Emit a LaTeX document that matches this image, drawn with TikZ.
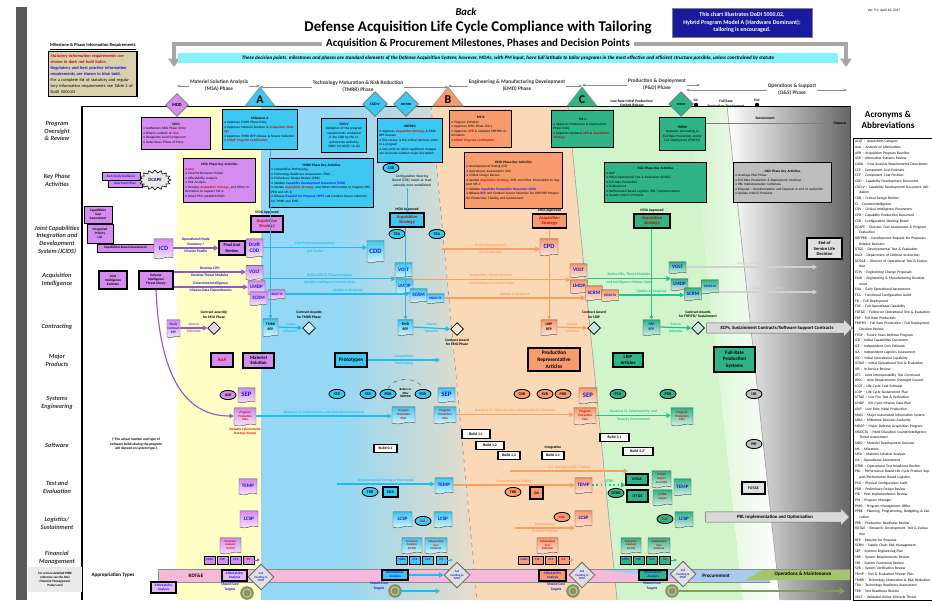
\documentclass[tikz,border=0pt]{standalone}
\usepackage{fontspec}
\setmainfont{Carlito}
\usetikzlibrary{shapes.geometric,shapes.symbols,shapes.arrows,arrows.meta,positioning}

% phase colours
\definecolor{msafill}{HTML}{D58CF0}
\definecolor{tmrrfill}{HTML}{3CC8F2}
\definecolor{emdfill}{HTML}{F79B6C}
\definecolor{pdfill}{HTML}{2FB487}
\definecolor{osfill}{HTML}{BEBEBE}
\definecolor{msabg}{HTML}{FFFFC6}
\definecolor{tmrrbg}{HTML}{94D8F5}
\definecolor{tanbg}{HTML}{EADCC6}
\definecolor{emdbg}{HTML}{FBD8B6}
\definecolor{pdbg}{HTML}{D2F4CA}
% text and band colours
\definecolor{statred}{HTML}{D00000}
\definecolor{regblue}{HTML}{1414E6}
\definecolor{navybox}{HTML}{1A1A9E}
\definecolor{infotan}{HTML}{D9D0AE}
\definecolor{bandcyan}{HTML}{84F3FF}
\definecolor{rdtepink}{HTML}{F7B9DA}
\definecolor{procblue}{HTML}{A9C9EE}
\definecolor{omgreen}{HTML}{A6C46C}
\definecolor{tgtolive}{HTML}{8C9A5A}
\definecolor{arrcyan}{HTML}{1DBDF2}
\definecolor{arrorange}{HTML}{F7A062}
\definecolor{arrgreen}{HTML}{26C28C}
\definecolor{arrpurple}{HTML}{9B55C4}

\newcommand{\chartfont}{\fontsize{2.4}{3.2}\selectfont}
\newcommand{\rowfont}{\fontsize{4.5}{5.4}\selectfont\bfseries\itshape}
\newcommand{\statreq}[1]{\textcolor{statred}{\bfseries\itshape #1}}
\newcommand{\regreq}[1]{\textcolor{regblue}{\bfseries #1}}
\newcommand{\boxhead}[1]{{\centering\bfseries #1\par}}
\newcommand{\itm}{\textbullet~}

\tikzset{
  every node/.style={font=\chartfont, inner sep=0.5pt},
  rowlabel/.style={font=\rowfont, align=center, text=black!80},
  phaselabel/.style={font=\fontsize{3.8}{5}\selectfont\bfseries, align=center, text=black!80},
  phaseline/.style={black!45, thin, -{Stealth[length=2.5pt,width=2pt]}},
  graybend/.style={line width=2.2pt, black!35, -{Triangle[length=6pt,width=8pt]}},
  gate/.style={diamond, draw=black!55, line width=0.5pt, minimum size=0.62cm, inner sep=0pt, font=\fontsize{2.6}{3}\selectfont\bfseries},
  msletter/.style={font=\fontsize{8.5}{9}\selectfont\bfseries},
  gatebox/.style={draw, line width=0.8pt, align=left, inner sep=1.2pt, anchor=north west},
  msabox/.style={gatebox, fill=msafill},
  tmrrbox/.style={gatebox, fill=tmrrfill},
  emdbox/.style={gatebox, fill=emdfill},
  pdbox/.style={gatebox, fill=pdfill},
  osbox/.style={gatebox, fill=osfill},
  minibox/.style={draw, line width=0.6pt, align=center, inner sep=0.5pt, font=\fontsize{2.4}{2.8}\selectfont\bfseries},
  acqbox/.style={draw, line width=0.9pt, align=center, minimum width=0.85cm, minimum height=0.35cm, font=\fontsize{3.2}{3.6}\selectfont\bfseries\itshape, text=statred},
  doc/.style={tape, tape bend top=none, tape bend height=1.2pt, draw=black!70, line width=0.3pt, align=center, inner sep=0.3pt, font=\fontsize{3.6}{4}\selectfont\bfseries, text=regblue, minimum width=0.425cm, minimum height=0.375cm},
  msadoc/.style={doc, top color=msafill, bottom color=msafill!25},
  tmrrdoc/.style={doc, top color=tmrrfill, bottom color=tmrrfill!20},
  emddoc/.style={doc, top color=emdfill, bottom color=emdfill!25},
  pddoc/.style={doc, top color=pdfill, bottom color=pdfill!20},
  review/.style={ellipse, draw, line width=0.6pt, minimum width=0.4cm, minimum height=0.23cm, inner sep=0pt, font=\fontsize{2.8}{3}\selectfont\bfseries},
  prodbox/.style={draw, line width=0.9pt, align=center, font=\fontsize{3.4}{4}\selectfont\bfseries, inner sep=1pt},
  buildtag/.style={draw, line width=0.8pt, fill=white, font=\fontsize{2.7}{3}\selectfont\bfseries, minimum width=0.6cm, minimum height=0.22cm, inner sep=0.5pt},
  flow/.style={line width=1.2pt, -{Triangle[length=3.2pt,width=3.6pt]}},
  purpleflow/.style={flow, arrpurple},
  cyanflow/.style={flow, arrcyan},
  orangeflow/.style={flow, arrorange},
  greenflow/.style={flow, arrgreen},
  grayflow/.style={flow, black!18},
  flowlabel/.style={font=\fontsize{2.6}{3.2}\selectfont\bfseries, align=center, inner sep=1pt},
  award/.style={diamond, draw, line width=0.5pt, minimum size=0.32cm, inner sep=0pt},
  finbox/.style={draw, line width=0.5pt, minimum width=0.27cm, minimum height=0.2cm, inner sep=0.2pt, font=\fontsize{2.1}{2.4}\selectfont\bfseries, text=regblue},
  fundgate/.style={diamond, draw=black!60, fill=black!12, line width=0.6pt, minimum size=0.65cm, inner sep=0pt, align=center, font=\fontsize{2.1}{2.5}\selectfont\bfseries, text=regblue},
  target/.style={circle, draw=black!50, fill=tgtolive, minimum size=0.32cm, inner sep=0pt,
    path picture={\draw[tgtolive!30] (path picture bounding box.center) circle (0.1cm);
                  \draw[black!50] (path picture bounding box.center) circle (0.05cm);}},
}

\begin{document}
\begin{tikzpicture}[x=0.025cm, y=-0.025cm]
\useasboundingbox (0,0) rectangle (932,600);
\fill[white] (0,0) rectangle (932,600);

% Phase backgrounds
\fill[msabg] (177,106) rectangle (261,600);
\fill[tmrrbg] (261,106) rectangle (340,600);
\shade[left color=tmrrbg, right color=tanbg] (340,106) -- (431,106) -- (477,600) -- (340,600) -- cycle;
\fill[emdbg] (431,106) -- (568,106) -- (617,600) -- (477,600) -- cycle;
\fill[pdbg] (568,106) -- (690,106) -- (743,600) -- (617,600) -- cycle;
\shade[left color=pdbg, right color=white] (690,106) -- (727,106) -- (780,600) -- (743,600) -- cycle;
\shade[left color=white, right color=black!60] (727,106) -- (850,106) -- (850,600) -- (780,600) -- cycle;
\draw[black!45, dashed, thin] (431,106) -- (477,600);
\draw[black!40, thin] (568,106) -- (617,600);
\draw[black!40, thin] (727,106) -- (780,600);
\draw[line width=0.6pt] (82,106) -- (850,106);
\draw[line width=0.8pt] (82,106) -- (82,600);
\draw[black!75, line width=0.6pt] (850,106) -- (850,600);
\fill[black!65] (16,7) rectangle (27,600);

% Titles
\node[font=\fontsize{7.5}{8}\selectfont\bfseries\itshape] (back) at (466,12) {Back};
\node[font=\fontsize{10.6}{11}\selectfont\bfseries] (title) at (478,28) {Defense Acquisition Life Cycle Compliance with Tailoring};
\node[font=\fontsize{7.8}{8}\selectfont\bfseries] (subtitle) at (478,44) {Acquisition \& Procurement Milestones, Phases and Decision Points};
\coordinate (leftdrop) at (174,67);
\coordinate (rightdrop) at (846,67);
\draw[graybend] ([xshift=-2pt]subtitle.west) -| (leftdrop);
\draw[graybend] ([xshift=2pt]subtitle.east) -| (rightdrop);
\node[fill=bandcyan, minimum width=16.5cm, minimum height=0.25cm, font=\fontsize{3.6}{4}\selectfont\bfseries\itshape] (tailornote) at (508,58)
  {These decision points, milestones and phases are standard elements of the Defense Acquisition System; however, MDAs, with PM input, have full latitude to tailor programs in the most effective and efficient structure possible, unless constrained by statute};
\node[fill=navybox, draw=black!50, text=white, align=center, minimum width=3.5cm, minimum height=0.725cm, font=\fontsize{4.2}{5.6}\selectfont\bfseries] (modelnote) at (742,22.5)
  {This chart illustrates DoDI 5000.02,\\Hybrid Program Model A (Hardware Dominant);\\tailoring is encouraged.};
\node[font=\fontsize{2.5}{3}\selectfont] (version) at (884,11) {Ver. 9.4, April 10, 2017};

% Information requirements key
\node[font=\fontsize{3.2}{3.6}\selectfont\bfseries] (infohead) at (93,47) {\underline{Milestone \& Phase Information Requirements}};
\node[draw, line width=0.9pt, fill=infotan, anchor=north west, text width=2.1cm, minimum height=1.125cm, align=left, inner sep=1.5pt, font=\fontsize{3.1}{4.3}\selectfont] (infokey) at (48,51)
  {\statreq{Statutory information requirements are shown in dark red bold italics.}\\
   \regreq{Regulatory and best practice information requirements are shown in blue bold.}\\
   For a complete list of statutory and regulatory information requirements see Table 2 of DoDI 5000.02};

% Milestones and decision points
\node[gate, fill=msafill, minimum size=0.58cm, font=\fontsize{3.2}{3.5}\selectfont\bfseries] (mdd) at (177,105) {MDD};
\filldraw[fill=tmrrfill, draw=black!45] (260,87) -- (275,106) -- (245,106) -- cycle;
\node[msletter] (msA) at (260,99.5) {A};
\node[gate, fill=tmrrfill] (cddv) at (375,104) {CDD-V};
\node[gate, fill=tmrrfill, font=\fontsize{2.2}{2.5}\selectfont\bfseries] (drfprd) at (406,104) {DRFPRD};
\filldraw[fill=emdfill, draw=black!45] (448,87) -- (463,106) -- (433,106) -- cycle;
\node[msletter] (msB) at (448,99.5) {B};
\filldraw[fill=pdfill, draw=black!45] (582,87) -- (597,106) -- (567,106) -- cycle;
\node[msletter] (msC) at (582,99.5) {C};
\node[gate, fill=pdfill, font=\fontsize{2.2}{2.5}\selectfont\bfseries] (frpdr) at (681,104) {FRPDR};
\node[circle, fill=black, minimum size=0.11cm, inner sep=0pt, label={[font=\fontsize{2.4}{3}\selectfont\bfseries]above:IOC}] (ioc) at (696,105) {};
\node[circle, fill=black, minimum size=0.11cm, inner sep=0pt, label={[font=\fontsize{2.4}{3}\selectfont\bfseries]above:FOC}] (foc) at (757,105) {};
\node[flowlabel] (lrip) at (632,103) {Low-Rate Initial Production/\\Limited Release};
\node[flowlabel] (fullrate) at (726,104) {Full Rate\\Production/Deployment};

% Phase labels
\node[phaselabel] (msaph) at (219,86) {Materiel Solution Analysis\\(MSA) Phase};
\node[phaselabel] (tmrrph) at (358,87) {Technology Maturation \& Risk Reduction\\(TMRR) Phase};
\node[phaselabel] (emdph) at (517,86) {Engineering \& Manufacturing Development\\(EMD) Phase};
\node[phaselabel] (pdph) at (657,85) {Production \& Deployment\\(P\&D) Phase};
\node[phaselabel] (osph) at (792,90) {Operations \& Support\\(O\&S) Phase};
\coordinate (pdend) at (700,85);
\coordinate (osstart) at (686,90);
\coordinate (osend) at (847,90);
\draw[phaseline] (msaph.west) -- (msaph.west -| mdd);
\draw[phaseline] (msaph.east) -- (msaph.east -| msA);
\draw[phaseline] (tmrrph.west) -- (tmrrph.west -| msA);
\draw[phaseline] (tmrrph.east) -- (tmrrph.east -| msB);
\draw[phaseline] (emdph.west) -- (emdph.west -| msB);
\draw[phaseline] (emdph.east) -- (emdph.east -| msC);
\draw[phaseline] (pdph.west) -- (pdph.west -| msC);
\draw[phaseline] (pdph.east) -- (pdend);
\draw[phaseline] (osph.west) -- (osstart);
\draw[phaseline] (osph.east) -- (osend);

% Row labels
\node[rowlabel] (rowpor) at (57,131) {Program\\Oversight\\\& Review};
\node[rowlabel] (rowkpa) at (57,180) {Key Phase\\Activities};
\node[rowlabel] (rowjcids) at (57,240) {Joint Capabilities\\Integration and\\Development\\System (JCIDS)};
\node[rowlabel] (rowintel) at (57,280) {Acquisition\\Intelligence};
\node[rowlabel] (rowcontr) at (57,327) {Contracting};
\node[rowlabel] (rowprod) at (57,360) {Major\\Products};
\node[rowlabel] (rowse) at (57,403) {Systems\\Engineering};
\node[rowlabel] (rowsw) at (57,445) {Software};
\node[rowlabel] (rowte) at (57,487) {Test and\\Evaluation};
\node[rowlabel] (rowlog) at (57,523) {Logistics/\\Sustainment};
\node[rowlabel] (rowfin) at (57,558) {Financial\\Management};
\node[fill=black!8, align=center, minimum width=1.35cm, minimum height=0.625cm, font=\fontsize{2.3}{3}\selectfont\bfseries\itshape] (finnote) at (55,579.5)
  {For a more detailed PPBE\\reference see the DAU\\Financial Management\\Poster card};

% Program oversight and review
\node[msabox, text width=1.64cm, minimum height=0.8cm] (mddbox) at (141,117)
  {\boxhead{MDD}\itm Authorizes MSA Phase Entry\\\itm Directs conduct of \statreq{AoA}\\\itm Designates Lead Component\\\itm Determines Phase of Entry};
\node[tmrrbox, text width=1.78cm, minimum height=1.0cm] (msAbox) at (222,109)
  {\boxhead{Milestone A}\itm Approves TMRR Phase Entry\\\itm Approves Materiel Solution \& \statreq{Acquisition Strategy}\\\itm Approves TMRR \regreq{RFP} release \& Source Selection\\\itm \statreq{MDAP Program Certification}};
\node[tmrrbox, align=center, text width=1.04cm, minimum height=0.85cm] (cddvbox) at (321,118)
  {\textbf{CDD-V}\\Validation of the program requirements contained in the CDD by the requirements authority (JROC for ACAT I \& IA)};
\node[tmrrbox, text width=1.54cm, minimum height=1.1cm] (drfprdbox) at (377,118)
  {\boxhead{DRFPRD}\itm Approves \statreq{Acquisition Strategy} \& EMD \regreq{RFP} Release\\\itm This review is the critical decision point in a program\\\itm Last point at which significant changes can be made without major disruption};
\node[emdbox, text width=1.47cm, minimum height=0.925cm] (msBbox) at (449,110)
  {\boxhead{MS B}\itm Program Initiation\\\itm Approves EMD Phase Entry\\\itm Approves \statreq{APB} \& Updated DRFPRD Information\\\itm \statreq{MDAP Program Certification}};
\node[pdbox, text width=1.47cm, minimum height=0.925cm] (msCbox) at (551,110)
  {\boxhead{MS C}\itm Approves Production \& Deployment Phase Entry\\\itm Approves Updated \statreq{APB} \& \statreq{Acquisition Strategy}};
\node[pdbox, align=center, text width=1.06cm, minimum height=0.825cm] (frpdrbox) at (659,117)
  {\textbf{FRPDR}\\Approves proceeding to Full Rate Production and/or Full Deployment (FRP/FD)};
\node[flowlabel] (sustain) at (765,118) {Sustainment};
\node[flowlabel] (disposal) at (840,123) {Disposal};
\draw[black!50, thin, -{Stealth[length=2.5pt,width=2pt]}] (frpdrbox.east |- disposal.west) -- (disposal.west);

% Key phase activities
\node[minibox, fill=msafill, minimum width=0.95cm, minimum height=0.18cm, text=regblue] (aoaguide) at (121,176.5) {AoA Study Guidance};
\node[minibox, fill=msafill, minimum width=0.85cm, minimum height=0.18cm, text=regblue] (aoaplan) at (125,184) {AoA Study Plan};
\node[starburst, starburst points=16, starburst point height=2pt, random starburst=0, draw, fill=black!8, minimum width=0.8cm, minimum height=0.5cm, font=\fontsize{3.4}{4}\selectfont\bfseries, text=regblue!50!black] (dcape) at (155,180) {DCAPE};
\node[msabox, text width=1.71cm, minimum height=1.1cm] (msakey) at (183,158)
  {\boxhead{MSA Phase Key Activities}\itm \statreq{AoA}\\\itm Cost/Performance Trades\\\itm Affordability Analysis\\\itm Risk Analysis\\\itm Develop \statreq{Acquisition Strategy}, and Other Information to Support MS A\\\itm Select PM/ establish PMO};
\node[tmrrbox, text width=2.51cm, minimum height=1.225cm] (tmrrkey) at (269,158)
  {\boxhead{TMRR Phase Key Activities}\itm Competitive Prototyping\\\itm Technology Readiness Assessment (TRA)\\\itm Preliminary Design Review (PDR)\\\itm Validate \regreq{Capability Development Document (CDD)}\\\itm Update \statreq{Acquisition Strategy}, and Other Information to Support DRFPRD and MS B\\\itm Release \regreq{Request for Proposal (RFP)} and Conduct Source Selection for TMRR and EMD};
\node[review, fill=tmrrfill] (csb) at (391,168) {CSB};
\node[align=center, text width=1.15cm, font=\fontsize{2.5}{3.1}\selectfont] (csbnote) at (412,181) {Configuration Steering Board (CSB) meets at least annually once established};
\node[emdbox, text width=2.36cm, minimum height=1.4cm] (emdkey) at (464,152)
  {\boxhead{EMD Phase Key Activities}\itm Developmental Testing (DT)\\\itm Operational Assessments (OA)\\\itm Critical Design Review\\\itm Update \statreq{Acquisition Strategy}, APB and Other Information to Support MS C\\\itm Validate \regreq{Capability Production Document (CPD)}\\\itm Release \regreq{RFP} and Conduct Source Selection for LRIP/FRP Prepare for Production, Fielding and Sustainment};
\node[pdbox, text width=2.46cm, minimum height=1.0cm] (pdkey) at (604,162)
  {\boxhead{P\&D Phase Key Activities}\itm LRIP\\\itm Initial Operational Test \& Evaluation (IOT\&E)\\\itm Full Rate Production\\\itm Deployment\\\itm Performance Based Logistics (PBL) Implementation\\\itm Update Intel/CI Products};
\node[osbox, text width=2.36cm, minimum height=1.0cm] (oskey) at (733,162)
  {\boxhead{O\&S Phase Key Activities}\itm Overlaps P\&D Phase\\\itm Full Rate Production \& Deployment Continue\\\itm PBL Implementation Continues\\\itm Disposal -- Demilitarization and Disposal at end of useful life\\\itm Update Intel/CI Products};

% JCIDS
\node[minibox, fill=msafill, minimum width=0.7cm, minimum height=0.425cm] (gapassess) at (98,214.5) {Capabilities\\Gap\\Assessment};
\node[minibox, fill=msafill, minimum width=0.65cm, minimum height=0.475cm] (iplist) at (100,233.5) {Integrated\\Priority\\List};
\node[minibox, fill=msafill, minimum width=1.425cm, minimum height=0.2cm] (cba) at (125.5,248) {Capabilities Based Assessment};
\node[msadoc, minimum width=0.475cm, minimum height=0.5cm, font=\fontsize{4.6}{5}\selectfont\bfseries] (icd) at (163.5,248) {ICD};
\node[minibox, fill=msafill, line width=0.9pt, minimum width=0.65cm, minimum height=0.35cm, font=\fontsize{3}{3.6}\selectfont\bfseries] (finalaoa) at (232,248) {Final AoA\\Review};
\node[msadoc, minimum width=0.425cm, minimum height=0.475cm, font=\fontsize{3.8}{4.6}\selectfont\bfseries] (draftcdd) at (254.5,247.5) {Draft\\CDD};
\node[acqbox, fill=msafill, minimum width=0.8cm, minimum height=0.4cm] (msaacq) at (267,224) {Acquisition\\Strategy};
\node[flowlabel, above=0pt of msaacq] (msamda) {MDA Approved};
\node[tmrrdoc, minimum width=0.425cm, minimum height=0.55cm, font=\fontsize{4.8}{5}\selectfont\bfseries] (cdd) at (375.5,251) {CDD};
\node[acqbox, fill=tmrrfill] (tmrracq) at (407,220) {Acquisition\\Strategy};
\node[flowlabel, above=0pt of tmrracq] (tmrrmda) {MDA Approved};
\node[review, fill=tmrrfill] (tra1) at (397,234) {TRA};
\node[review, fill=tmrrfill] (tra2) at (437,234) {TRA};
\node[emddoc, minimum width=0.45cm, minimum height=0.425cm, font=\fontsize{4.6}{5}\selectfont\bfseries] (cpd) at (549,246.5) {CPD};
\node[acqbox, fill=emdfill] (emdacq) at (549.5,221) {Acquisition\\Strategy};
\node[flowlabel, above=0pt of emdacq] (emdmda) {MDA Approved};
\node[acqbox, fill=pdfill, minimum width=0.9cm] (pdacq) at (652,221) {Acquisition\\Strategy};
\node[flowlabel, above=0pt of pdacq] (pdmda) {MDA Approved};
\node[draw, line width=0.9pt, fill=black!12, align=center, minimum width=0.875cm, minimum height=0.525cm, font=\fontsize{3.2}{4}\selectfont\bfseries] (endlife) at (824.5,248.5) {End of\\Service Life\\Decision};
\coordinate (cpdstart) at (442,249);
\draw[purpleflow] (icd.east) -- node[flowlabel, above, text=regblue]{Operational Mode\\Summary /} node[flowlabel, below, text=regblue]{Mission Profile} (finalaoa.west);
\draw[cyanflow] (draftcdd.east) -- node[flowlabel, above]{Cost Performance Analysis} node[flowlabel, below]{and Trades} (draftcdd.east -| cdd.west);
\draw[orangeflow] (cpdstart) -- node[flowlabel, above]{Refine Requirements} node[flowlabel, below]{For Production} (cpdstart -| cpd.west);

% Acquisition intelligence
\node[minibox, fill=msafill, line width=0.9pt, minimum width=0.7cm, minimum height=0.45cm] (jie) at (113,280) {Joint\\Intelligence\\Estimate};
\node[minibox, fill=msafill, line width=0.9pt, minimum width=0.85cm, minimum height=0.45cm] (ditl) at (156,280) {Defense\\Intelligence\\Threat Library};
\node[msadoc] (voltm) at (254.5,272) {VOLT};
\node[msadoc, minimum height=0.35cm] (lmdpm) at (256.5,287) {LMDP};
\node[msadoc, minimum height=0.35cm] (scrmm) at (258.5,298) {SCRM};
\node[msadoc, minimum height=0.25cm, font=\fontsize{2.4}{3}\selectfont\bfseries] (mddctam) at (276.5,294) {MDDCTA};
\node[tmrrdoc] (voltt) at (403.5,269.5) {VOLT};
\node[tmrrdoc] (lmdpt) at (404.5,285.5) {LMDP};
\node[tmrrdoc, minimum height=0.35cm] (scrmt) at (418.5,295) {SCRM};
\node[tmrrdoc, minimum height=0.25cm, font=\fontsize{2.4}{3}\selectfont\bfseries] (mddctat) at (435.5,298) {MDDCTA};
\node[emddoc, minimum height=0.35cm] (volte) at (578.5,270) {VOLT};
\node[emddoc, minimum height=0.35cm] (lmdpe) at (579,286) {LMDP};
\node[emddoc] (scrme) at (594,292.5) {SCRM};
\node[emddoc, minimum height=0.3cm, font=\fontsize{2.4}{3}\selectfont\bfseries] (mddctae) at (610,295) {MDDCTA};
\node[pddoc, minimum height=0.3cm] (voltp) at (677.5,267) {VOLT};
\node[pddoc, minimum height=0.3cm] (lmdpp) at (679.5,284) {LMDP};
\node[pddoc, minimum height=0.325cm] (scrmp) at (693,293.5) {SCRM};
\node[pddoc, minimum height=0.35cm, font=\fontsize{2.4}{3}\selectfont\bfseries] (mddctap) at (710,286) {MDDCTA};
\coordinate (intelend1) at (817,267);
\coordinate (intelend2) at (817,292);
\draw[purpleflow] (ditl.east |- voltm) -- node[flowlabel, above, text=regblue]{Develop CIPs} node[flowlabel, below, text=regblue]{Develop Threat Modules} (voltm.west);
\draw[purpleflow] (ditl.east |- lmdpm) -- node[flowlabel, above, text=regblue]{Determine Intelligence} node[flowlabel, below, text=regblue]{Mission Data Dependencies} (lmdpm.west);
\draw[cyanflow] (voltm.east |- lmdpt.north) -- node[flowlabel, above]{Refine CIPs \& Threat Modules} node[flowlabel, below]{Identify Intelligence Mission Data} (lmdpt.north west);
\draw[cyanflow] (mddctam.east) -- node[flowlabel, above]{Update as Required} (mddctam.east -| scrmt.west);
\draw[orangeflow] (voltt.east |- lmdpe.north) -- node[flowlabel, above]{Refine CIPs, Threat Modules} node[flowlabel, below]{and Intelligence Mission Data} (lmdpe.north west);
\draw[orangeflow] (mddctat.east) -- node[flowlabel, above]{Update as Required} (mddctat.east -| scrme.west);
\draw[greenflow] (volte.east |- lmdpp.north) -- node[flowlabel, above]{Refine CIPs, Threat Modules} node[flowlabel, below]{and Intelligence Mission Data} (lmdpp.north west);
\draw[greenflow] (mddctae.east) -- node[flowlabel, above]{Update as Required} (mddctae.east -| scrmp.west);
\draw[grayflow] (voltp.east) -- node[flowlabel, above]{Update as Required} (intelend1);
\draw[grayflow] (mddctap.east |- intelend2) -- node[flowlabel, above]{Update as Required} (intelend2);

% Contracting
\node[msadoc, minimum width=0.325cm, minimum height=0.45cm, font=\fontsize{2.4}{2.9}\selectfont\bfseries] (studyrfp) at (173.5,328) {Study\\Contract\\RFP};
\node[award, fill=msafill!40] (msaaward) at (214,328) {};
\node[flowlabel, above=1pt of msaaward] (msaawardlbl) {Contract award(s)\\for MSA Phase};
\node[tmrrdoc, minimum width=0.375cm, minimum height=0.45cm, font=\fontsize{2.6}{3.2}\selectfont\bfseries, text=black] (tmrrrfp) at (270.5,327) {TMRR\\RFP};
\node[award, fill=tmrrfill!30] (tmrraward) at (309,328) {};
\node[flowlabel, above=1pt of tmrraward] (tmrrawardlbl) {Contract Awards\\for TMRR Phase};
\node[tmrrdoc, minimum width=0.375cm, minimum height=0.4cm, font=\fontsize{2.6}{3.2}\selectfont\bfseries, text=black] (emdrfp) at (405.5,327) {EMD\\RFP};
\node[award, fill=emdfill!30] (emdaward) at (457,329) {};
\node[flowlabel, below=1pt of emdaward] (emdawardlbl) {Contract Award\\for EMD Phase};
\node[emddoc, minimum width=0.4cm, minimum height=0.4cm, font=\fontsize{2.6}{3.2}\selectfont\bfseries, text=black] (lriprfp) at (549,327) {LRIP\\RFP};
\node[award, fill=pdfill!30] (lripaward) at (594,328) {};
\node[flowlabel, above=1pt of lripaward] (lripawardlbl) {Contract Award\\for LRIP};
\node[pddoc, minimum width=0.425cm, minimum height=0.4cm, font=\fontsize{2.6}{3.2}\selectfont\bfseries] (frprfp) at (651.5,327) {FRP\\RFP};
\node[award, fill=pdfill!30] (frpaward) at (698,328) {};
\node[flowlabel, above=1pt of frpaward] (frpawardlbl) {Contract Awards\\for FRP/FD/ Sustainment};
\node[single arrow, draw=black!60, fill=black!15, minimum height=3.65cm, minimum width=0.45cm, single arrow head extend=2pt, inner sep=1pt, font=\fontsize{3.4}{4}\selectfont\bfseries] (ecps) at (777,328) {ECPs, Sustainment Contracts/Software Support Contracts};
\draw[purpleflow, line width=0.9pt] (studyrfp.east) -- node[flowlabel, above]{Source} node[flowlabel, below]{Selection} (msaaward.west);
\draw[cyanflow, line width=0.9pt] (tmrrrfp.east) -- node[flowlabel, above]{Source} node[flowlabel, below]{Selection} (tmrraward.west);
\draw[cyanflow, line width=0.9pt] (emdrfp.east) -- node[flowlabel, above]{Source} node[flowlabel, below]{Selection} (emdaward.west);
\draw[orangeflow, line width=0.9pt] (lriprfp.east) -- node[flowlabel, above]{Source} node[flowlabel, below]{Selection} (lripaward.west);
\draw[greenflow, line width=0.9pt] (frprfp.east) -- node[flowlabel, above]{Source} node[flowlabel, below]{Selection} (frpaward.west);
% vertical ties from decisions to RFPs
\draw[arrcyan, line width=0.6pt, -{Triangle[length=2.5pt,width=2.5pt]}] (msAbox.south -| tmrrrfp) -- (tmrrrfp.north);
\draw[arrcyan, line width=0.6pt] (csbnote.south -| tmrracq.north) -- (tmrracq.north);
\draw[arrcyan, line width=0.6pt, -{Triangle[length=2.5pt,width=2.5pt]}] (tmrracq.south -| emdrfp) -- (emdrfp.north);
\draw[arrorange, line width=0.6pt] (emdacq.south -| cpd.north) -- (cpd.north);
\draw[arrorange, line width=0.6pt, -{Triangle[length=2.5pt,width=2.5pt]}] (cpd.south -| lriprfp) -- (lriprfp.north);
\draw[arrgreen, line width=0.6pt, -{Triangle[length=2.5pt,width=2.5pt]}] (pdacq.south -| frprfp) -- (frprfp.north);

% Major products
\node[prodbox, fill=msafill, minimum width=0.55cm, minimum height=0.35cm, text=statred, font=\fontsize{3.6}{4}\selectfont\bfseries\itshape] (aoaprod) at (222,360) {AoA};
\node[prodbox, fill=msafill, minimum width=0.775cm, minimum height=0.375cm] (matsol) at (258.5,360.5) {Materiel\\Solution};
\node[prodbox, fill=tmrrfill, minimum width=0.8cm, minimum height=0.35cm, font=\fontsize{3.8}{4}\selectfont\bfseries] (prototypes) at (351,360) {Prototypes};
\coordinate (protoend) at (440,360);
\draw[cyanflow] (prototypes.east) -- node[flowlabel, above]{Competitive} node[flowlabel, below]{Prototyping} (protoend);
\node[prodbox, fill=emdfill, minimum width=1.3cm, minimum height=0.575cm, font=\fontsize{3.8}{5}\selectfont\bfseries] (prodrep) at (554,359.5) {Production\\Representative\\Articles};
\node[prodbox, fill=pdfill, minimum width=0.75cm, minimum height=0.35cm] (lripart) at (628,360) {LRIP\\Articles};
\node[prodbox, fill=pdfill, minimum width=1.025cm, minimum height=0.625cm, font=\fontsize{3.6}{4.6}\selectfont\bfseries] (fullrateprod) at (734.5,359.5) {Full-Rate\\Production\\Systems};

% Systems engineering
\node[review, fill=msafill] (asr) at (228,395) {ASR};
\node[msadoc, font=\fontsize{4.8}{5}\selectfont\bfseries] (sepm) at (246.5,394.5) {SEP};
\node[msadoc, minimum width=0.55cm, minimum height=0.45cm, text=statred, font=\fontsize{2.2}{2.7}\selectfont\bfseries\itshape] (pppm) at (245,416) {Program\\Protection\\Plan};
\node[align=center, text=statred, font=\fontsize{2.4}{3}\selectfont\bfseries\itshape] (pppnote) at (245,431.5) {(includes Cybersecurity\\Strategy Annex)};
\draw[arrpurple, line width=0.8pt, -{Triangle[length=3pt,width=3pt]}] (ditl.south) .. controls (160,385) and (190,416) .. (pppm.west);
\node[review, fill=tmrrfill] (srr) at (337,394) {SRR};
\node[review, fill=tmrrfill] (sfr) at (368,394) {SFR};
\node[review, fill=tmrrfill] (pdr1) at (388,394) {PDR};
\node[review, fill=tmrrfill] (pdr2) at (423,394) {PDR};
\node[flowlabel, font=\fontsize{2.2}{2.6}\selectfont\bfseries] (pdrnote) at (405.5,393) {Before or\\After\\DRFPRD};
\draw[black!60, dashed, thin] (pdr1.north) to[bend left=70] (pdr2.north);
\node[tmrrdoc, font=\fontsize{4.8}{5}\selectfont\bfseries] (sept) at (446.5,394.5) {SEP};
\node[tmrrdoc, minimum width=0.575cm, minimum height=0.425cm, text=statred, font=\fontsize{2.2}{2.7}\selectfont\bfseries\itshape] (ppp1t) at (403.5,414.5) {Program\\Protection\\Plan};
\node[tmrrdoc, minimum width=0.55cm, minimum height=0.425cm, text=statred, font=\fontsize{2.2}{2.7}\selectfont\bfseries\itshape] (ppp2t) at (445,414.5) {Program\\Protection\\Plan};
\node[review, fill=emdfill] (cdr) at (522,394) {CDR};
\node[review, fill=emdfill] (svr) at (545,394) {SVR};
\node[review, fill=emdfill] (prr1) at (563,394) {PRR};
\node[emddoc, minimum width=0.45cm, minimum height=0.4cm, font=\fontsize{4.8}{5}\selectfont\bfseries] (sepe) at (588,395) {SEP};
\node[emddoc, minimum width=0.55cm, minimum height=0.425cm, text=statred, font=\fontsize{2.2}{2.7}\selectfont\bfseries\itshape] (pppe) at (585,415.5) {Program\\Protection\\Plan};
\node[review, fill=pdfill] (pca) at (618,394) {PCA};
\node[review, fill=pdfill] (prr2) at (668,394) {PRR};
\node[pddoc, minimum width=0.55cm, minimum height=0.45cm, text=statred, font=\fontsize{2.2}{2.7}\selectfont\bfseries\itshape] (pppp) at (682,416) {Program\\Protection\\Plan};
\node[review, fill=osfill] (isr) at (754,394) {ISR};
\draw[cyanflow] (pppm.east) -- node[flowlabel, above]{Reassess CI, Cybersecurity, and Security Environment} (pppm.east -| ppp1t.west);
\draw[orangeflow] (ppp2t.east) -- node[flowlabel, above]{Reassess CI, Cybersecurity, and Security Environment} (ppp2t.east -| pppe.west);
\draw[greenflow] (pppe.east) -- node[flowlabel, above]{Reassess CI, Cybersecurity, and} node[flowlabel, below]{Security Environment} (pppe.east -| pppp.west);

% Software
\node[align=center, font=\fontsize{2.5}{3.2}\selectfont\bfseries] (swnote) at (136,444) {(*The actual number and type of\\software builds during the program\\will depend on system type.)};
\node[buildtag, minimum width=0.575cm] (build01) at (385.5,448.5) {Build 0.1};
\node[buildtag, minimum width=0.7cm] (build11) at (476,434) {Build 1.1};
\node[buildtag, minimum width=0.7cm] (build12) at (490,445.5) {Build 1.2};
\node[buildtag, minimum width=0.55cm] (build13) at (509,455.5) {Build 1.3};
\node[flowlabel] (integ) at (553,448) {Integration};
\node[buildtag, minimum width=0.55cm] (build21) at (553,455.5) {Build 2.1};
\node[buildtag, minimum width=0.725cm] (build31) at (614.5,437.5) {Build 3.1};
\node[buildtag, minimum width=0.75cm] (build32) at (638,451.5) {Build 3.2*};
\node[review, fill=osfill] (pir) at (754,444) {PIR};

% Test and evaluation
\node[msadoc, minimum width=0.45cm, minimum height=0.4cm] (tempm) at (248,486) {TEMP};
\node[review, fill=tmrrfill] (trr1) at (370,492) {TRR};
\node[buildtag, fill=tmrrfill, minimum width=0.375cm, minimum height=0.25cm] (eoa) at (390.5,492) {EOA};
\node[tmrrdoc, minimum width=0.45cm, minimum height=0.4cm] (tempt) at (444,485) {TEMP};
\node[review, fill=emdfill] (trr2) at (513,492) {TRR};
\node[buildtag, fill=emdfill, minimum width=0.325cm, minimum height=0.3cm] (oa) at (536.5,493) {OA};
\node[emddoc, minimum width=0.425cm, minimum height=0.4cm] (tempe) at (583.5,485) {TEMP};
\node[review, fill=pdfill] (otrr) at (616,493) {OTRR};
\node[buildtag, fill=pdfill, minimum width=0.55cm, minimum height=0.275cm] (iote) at (637,479.5) {IOT\&E};
\node[buildtag, fill=pdfill, minimum width=0.525cm, minimum height=0.3cm] (lfte) at (637.5,496) {LFT\&E};
\node[pddoc, minimum width=0.475cm, minimum height=0.425cm, text=statred, font=\fontsize{2.1}{2.6}\selectfont\bfseries\itshape] (doterpt) at (661.5,478.5) {DOT\&E\\Report\\on IOT\&E};
\node[pddoc, minimum width=0.475cm, minimum height=0.4cm, text=statred, font=\fontsize{2.1}{2.6}\selectfont\bfseries\itshape] (lfterpt) at (662.5,497) {LFT\&E\\Report};
\node[pddoc, minimum width=0.425cm, minimum height=0.425cm] (tempp) at (682.5,486.5) {TEMP};
\node[buildtag, fill=black!12, minimum width=0.575cm, minimum height=0.3cm] (fote) at (753.5,488) {FOT\&E};
\coordinate (dtstart) at (337,484);
\coordinate (jitcstart) at (510,471);
\coordinate (jitcend) at (628,471);
\draw[cyanflow] (dtstart) -- node[flowlabel, above]{Developmental Testing of Prototypes} (dtstart -| tempt.west);
\draw[orangeflow] (tempt.east) -- node[flowlabel, above]{Developmental Testing} (tempt.east -| tempe.west);
\draw[orangeflow] (jitcstart) -- node[flowlabel, above]{JITC Interoperability Testing} (jitcend);
\draw[arrgreen, line width=1pt, dotted, -{Triangle[length=3pt,width=3.4pt]}] (tempe.east) -- node[flowlabel, above]{OTRR} (tempe.east -| iote.west);

% Logistics and sustainment
\node[msadoc, minimum width=0.45cm, minimum height=0.425cm] (lcspm) at (249,518.5) {LCSP};
\node[tmrrdoc, minimum width=0.475cm, minimum height=0.4cm] (lcsp1t) at (402.5,519) {LCSP};
\node[review, fill=tmrrfill, text=statred] (ila1) at (423,521) {ILA};
\node[tmrrdoc, minimum width=0.45cm, minimum height=0.4cm] (lcsp2t) at (443,519) {LCSP};
\node[review, fill=emdfill, text=statred] (ila2) at (562,517) {ILA};
\node[emddoc, minimum width=0.425cm, minimum height=0.4cm] (lcspe) at (583.5,518) {LCSP};
\node[review, fill=pdfill, text=statred] (ila3) at (665,519) {ILA};
\node[pddoc, minimum width=0.45cm, minimum height=0.4cm] (lcspp) at (684,519) {LCSP};
\coordinate (demostart) at (515,528);
\draw[orangeflow] (demostart) -- node[flowlabel, above]{Demonstrate} node[flowlabel, below]{Product Support} (demostart -| lcspe.west);
\node[single arrow, draw=black!60, fill=black!15, minimum height=3.6cm, minimum width=0.45cm, single arrow head extend=2pt, inner sep=1pt, font=\fontsize{3.4}{4}\selectfont\bfseries] (pbl) at (775,517) {PBL Implementation and Optimization};

% Appropriation bands
\fill[rdtepink] (158,569) rectangle (590,582);
\fill[rdtepink] (590,569) -- (705,582) -- (590,582) -- cycle;
\fill[procblue] (590,569) -- (770,569) -- (770,582) -- (705,582) -- cycle;
\fill[omgreen] (745,580) -- (765,569) -- (850,569) -- (850,580) -- cycle;
\draw[black!45, thin] (158,569) -- (850,569);
\draw[black!45, thin] (158,582) -- (770,582);
\draw[black!45, thin] (158,569) -- (158,582);
\node[font=\fontsize{3.6}{4}\selectfont\bfseries] (apptypes) at (113,575) {Appropriation Types};
\node[font=\fontsize{3.6}{4}\selectfont\bfseries] (rdte) at (196,575.5) {RDT\&E};
\node[font=\fontsize{3.6}{4}\selectfont\bfseries] (procure) at (716,576) {Procurement};
\node[font=\fontsize{3.6}{4}\selectfont\bfseries] (omlabel) at (803,574.5) {Operations \& Maintenance};

% Financial management
\node[msadoc, minimum width=0.525cm, minimum height=0.4cm, text=statred, font=\fontsize{2.1}{2.6}\selectfont\bfseries\itshape] (econm) at (230.5,545) {Economic\\Analysis\\(MAIS)};
\node[finbox, fill=msafill] (cardm) at (209.5,560) {CARD};
\node[finbox, fill=msafill] (ccem) at (222.5,560) {CCE};
\node[finbox, fill=msafill] (ccpm) at (236,560) {CCP};
\node[finbox, fill=msafill, text=statred] (icem) at (248.5,560) {ICE};
\node[minibox, fill=msafill!60, line width=0.9pt, minimum width=0.625cm, minimum height=0.275cm, text=regblue] (affm1) at (163.5,587.5) {Affordability\\Analysis};
\node[minibox, fill=msafill!60, line width=0.9pt, minimum width=0.625cm, minimum height=0.275cm, text=regblue] (affm2) at (234.5,575.5) {Affordability\\Analysis};
\node[fundgate] (msafund) at (261,577) {Full\\Funding in\\FYDP};
\node[flowlabel, text=regblue] (shouldm) at (230,587) {Should Cost\\Targets};
\node[target] (targetm) at (247,593) {};
\coordinate (msafinend) at (260,560);
\draw[arrpurple, line width=0.6pt, -{Triangle[length=2pt,width=2pt]}] (icem.east) -- (msafinend);

\node[tmrrdoc, minimum width=0.5cm, minimum height=0.4cm, text=statred, font=\fontsize{2.1}{2.6}\selectfont\bfseries\itshape] (econt) at (412,545) {Economic\\Analysis\\(MAIS)};
\node[tmrrdoc, minimum width=0.55cm, minimum height=0.4cm, text=statred, font=\fontsize{2.1}{2.6}\selectfont\bfseries\itshape] (indept) at (436,545) {Independent\\Cost\\Estimate};
\node[finbox, fill=tmrrfill] (cardt) at (402,560) {CARD};
\node[finbox, fill=tmrrfill] (ccet) at (415,560) {CCE};
\node[finbox, fill=tmrrfill] (ccpt) at (428,560) {CCP};
\node[finbox, fill=tmrrfill, text=statred] (icet) at (441.5,560) {ICE};
\node[minibox, fill=tmrrfill, line width=0.9pt, minimum width=0.65cm, minimum height=0.25cm, text=regblue] (afft) at (395,575) {Affordability\\Analysis};
\node[fundgate] (tmrrfund) at (457,575) {Full\\Funding in\\FYDP};
\node[flowlabel, text=regblue] (shouldt) at (379,586) {Should Cost\\Targets};
\node[target] (targett) at (395,591) {};
\coordinate (tmrrfinend) at (453,560);
\coordinate (tmrrtgtend) at (440,591);
\draw[arrcyan, line width=0.6pt, -{Triangle[length=2pt,width=2pt]}] (icet.east) -- (tmrrfinend);
\draw[cyanflow] (afft.east) -- (tmrrfund.west);
\draw[cyanflow] (targett.east) -- (tmrrtgtend);

\node[emddoc, minimum width=0.525cm, minimum height=0.4cm, text=statred, font=\fontsize{2.1}{2.6}\selectfont\bfseries\itshape] (indepe) at (547.5,545) {Independent\\Cost\\Estimate};
\node[finbox, fill=emdfill] (carde) at (524,560) {CARD};
\node[finbox, fill=emdfill] (ccee) at (537.5,560) {CCE};
\node[finbox, fill=emdfill] (ccpe) at (551,560) {CCP};
\node[finbox, fill=emdfill, text=statred] (icee) at (563.5,560) {ICE};
\node[minibox, fill=emdfill, line width=0.9pt, minimum width=0.675cm, minimum height=0.275cm, text=regblue] (affe) at (552.5,575.5) {Affordability\\Analysis};
\node[fundgate] (emdfund) at (582,575) {Full\\Funding in\\FYDP};
\node[flowlabel, text=regblue] (shoulde) at (556,587) {Should Cost\\Targets};
\node[target] (targete) at (573,591) {};
\coordinate (emdfinend) at (574,560);
\draw[arrorange, line width=0.6pt, -{Triangle[length=2pt,width=2pt]}] (icee.east) -- (emdfinend);

\node[pddoc, minimum width=0.5cm, minimum height=0.4cm, text=statred, font=\fontsize{2.1}{2.6}\selectfont\bfseries\itshape] (econp) at (631,545) {Economic\\Analysis\\(MAIS)};
\node[pddoc, minimum width=0.55cm, minimum height=0.4cm, text=statred, font=\fontsize{2.1}{2.6}\selectfont\bfseries\itshape] (indepp) at (659,545) {Independent\\Cost\\Estimate};
\node[finbox, fill=pdfill] (cardp) at (625.5,560) {CARD};
\node[finbox, fill=pdfill] (ccep) at (638.5,560) {CCE};
\node[finbox, fill=pdfill] (ccpp) at (652,560) {CCP};
\node[finbox, fill=pdfill, text=statred] (icep) at (665,560) {ICE};
\node[minibox, fill=pdfill, line width=0.9pt, minimum width=0.7cm, minimum height=0.25cm, text=regblue] (affp) at (653,575) {Affordability\\Analysis};
\node[fundgate] (pdfund) at (683,574) {Full\\Funding in\\FYDP};
\node[flowlabel, text=regblue] (shouldp) at (652,586) {Should Cost\\Targets};
\node[target] (targetp) at (672,591) {};
\coordinate (pdfinend) at (677,560);
\coordinate (omend) at (845,591);
\draw[arrgreen, line width=0.6pt, -{Triangle[length=2pt,width=2pt]}] (icep.east) -- (pdfinend);
\draw[omgreen!80!black, line width=1.3pt, -{Triangle[length=4pt,width=5pt]}] (targetp.east) -- (omend);

% Acronyms and abbreviations
\node[font=\fontsize{6.5}{7.5}\selectfont\bfseries, align=center] (acrtitle) at (888,120) {Acronyms \&\\Abbreviations};
\node[draw, line width=0.6pt, fill=white, anchor=north west, text width=1.9cm, align=left, inner sep=1.2pt, font=\fontsize{2.6}{4.05}\selectfont] (acrlist) at (853,138)
 {\everypar{\hangindent=3pt\hangafter=1}%
  ACAT -- Acquisition Category\par
  AoA -- Analysis of Alternatives\par
  APB -- Acquisition Program Baseline\par
  ASR -- Alternative Systems Review\par
  CARD -- Cost Analysis Requirements Description\par
  CCE -- Component Cost Estimate\par
  CCP -- Component Cost Position\par
  CDD -- Capability Development Document\par
  CDD-V -- Capability Development Document Validation\par
  CDR -- Critical Design Review\par
  CI -- Counterintelligence\par
  CIPs -- Critical Intelligence Parameters\par
  CPD -- Capability Production Document\par
  CSB -- Configuration Steering Board\par
  DCAPE -- Director, Cost Assessment \& Program Evaluation\par
  DRFPRD -- Development Request for Proposals Release Decision\par
  DT\&E -- Developmental Test \& Evaluation\par
  DoDI -- Department of Defense Instruction\par
  DOT\&E -- Director of Operational Test \& Evaluation\par
  ECPs -- Engineering Change Proposals\par
  EMD -- Engineering \& Manufacturing Development\par
  EOA -- Early Operational Assessment\par
  FCA -- Functional Configuration Audit\par
  FD -- Full Deployment\par
  FOC -- Full Operational Capability\par
  FOT\&E -- Follow-on Operational Test \& Evaluation\par
  FRP -- Full Rate Production\par
  FRP/FD -- Full Rate Production / Full Deployment Decision Review\par
  FYDP -- Future Years Defense Program\par
  ICD -- Initial Capabilities Document\par
  ICE -- Independent Cost Estimate\par
  ILA -- Independent Logistics Assessment\par
  IOC -- Initial Operational Capability\par
  IOT\&E -- Initial Operational Test \& Evaluation\par
  ISR -- In-Service Review\par
  JITC -- Joint Interoperability Test Command\par
  JROC -- Joint Requirements Oversight Council\par
  LCCE -- Life Cycle Cost Estimate\par
  LCSP -- Life Cycle Sustainment Plan\par
  LFT\&E -- Live Fire Test \& Evaluation\par
  LMDP -- Life Cycle Mission Data Plan\par
  LRIP -- Low Rate Initial Production\par
  MAIS -- Major Automated Information System\par
  MDA -- Milestone Decision Authority\par
  MDAP -- Major Defense Acquisition Program\par
  MDDCTA -- Multi-Discipline Counterintelligence Threat Assessment\par
  MDD -- Materiel Development Decision\par
  MS -- Milestone\par
  MSA -- Materiel Solution Analysis\par
  OA -- Operational Assessment\par
  OTRR -- Operational Test Readiness Review\par
  PBL -- Performance Based Life Cycle Product Support/Performance Based Logistics\par
  PCA -- Physical Configuration Audit\par
  PDR -- Preliminary Design Review\par
  PIR -- Post Implementation Review\par
  PM -- Program Manager\par
  PMO -- Program Management Office\par
  PPBE -- Planning, Programming, Budgeting \& Execution\par
  PRR -- Production Readiness Review\par
  RDT\&E -- Research, Development, Test \& Evaluation\par
  RFP -- Request for Proposal\par
  SCRM -- Supply Chain Risk Management\par
  SEP -- Systems Engineering Plan\par
  SRR -- System Requirements Review\par
  SFR -- System Functional Review\par
  SVR -- System Verification Review\par
  TEMP -- Test \& Evaluation Master Plan\par
  TMRR -- Technology Maturation \& Risk Reduction\par
  TRA -- Technology Readiness Assessment\par
  TRR -- Test Readiness Review\par
  VOLT -- Validated Online Lifecycle Threat};
\end{tikzpicture}
\end{document}
